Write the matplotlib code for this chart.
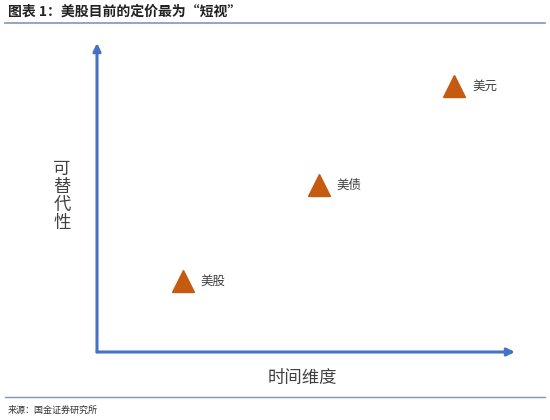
import matplotlib
matplotlib.use("Agg")
import matplotlib.pyplot as plt
from matplotlib.lines import Line2D

plt.rcParams['font.family'] = ['Noto Sans CJK SC', 'DejaVu Sans']

labels = ["美股", "美债", "美元"]
x_vals = [2.05, 5.3, 8.55]
y_vals = [2.3, 5.4, 8.6]
title = "图表 1：美股目前的定价最为“短视”"
x_label = "时间维度"
y_label = "可替代性"
source = "来源：国金证券研究所"

W, H = 550, 420
fig = plt.figure(figsize=(W / 100, H / 100), dpi=100)

def px(x0, y0, x1, y1):
    return [x0 / W, 1 - y1 / H, (x1 - x0) / W, (y1 - y0) / H]

ax = fig.add_axes(px(97, 43, 515, 352))
ax.set_xlim(0, 10)
ax.set_ylim(0, 10)
ax.axis('off')

blue = "#4472C4"
# axes arrows
ax.annotate("", xy=(1.0, 0), xytext=(0, 0), xycoords='axes fraction',
            arrowprops=dict(arrowstyle="-|>,head_length=0.45,head_width=0.22",
                            color=blue, lw=2.2, shrinkA=0, shrinkB=0))
ax.annotate("", xy=(0, 1.0), xytext=(0, 0), xycoords='axes fraction',
            arrowprops=dict(arrowstyle="-|>,head_length=0.45,head_width=0.22",
                            color=blue, lw=2.2, shrinkA=0, shrinkB=0))

ax.plot(x_vals, y_vals, linestyle='none', marker='^', markersize=16,
        color="#C55A11", markeredgecolor="#C55A11")
for xv, yv, lab in zip(x_vals, y_vals, labels):
    ax.annotate(lab, (xv, yv), xytext=(13, 0), textcoords='offset points',
                fontsize=9, color="#404040", va='center', ha='left')

fig.text(302 / W, 1 - 378 / H, x_label, fontsize=12.5, color="#404040",
         ha='center', va='center')
fig.text(62 / W, 1 - 196 / H, "\n".join(y_label), fontsize=12.5, color="#404040",
         ha='center', va='center', linespacing=1.0)

fig.text(8 / W, 1 - 12 / H, title, fontsize=10, fontweight='bold', color="#222222",
         ha='left', va='center', style='italic')
fig.text(8 / W, 1 - 410 / H, source, fontsize=6.5, color="#333333",
         ha='left', va='center')

fig.add_artist(Line2D([5 / W, 545 / W], [1 - 23 / H, 1 - 23 / H], color="#8496B0", lw=1.2))
fig.add_artist(Line2D([5 / W, 545 / W], [1 - 397 / H, 1 - 397 / H], color="#8496B0", lw=1.0))

fig.savefig("out.png", dpi=100)
